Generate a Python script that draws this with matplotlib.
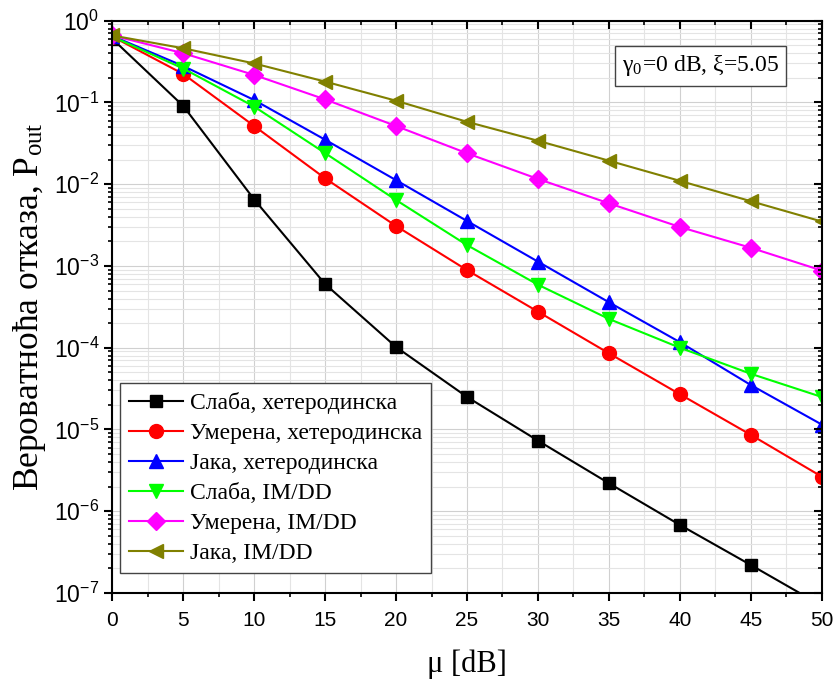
import matplotlib
matplotlib.use("Agg")
import matplotlib.pyplot as plt
from matplotlib.ticker import LogLocator, MultipleLocator, NullFormatter, FuncFormatter
import numpy as np

plt.rcParams["mathtext.fontset"] = "custom"
plt.rcParams["mathtext.rm"] = "Liberation Sans"
plt.rcParams["mathtext.it"] = "Liberation Sans:italic"
plt.rcParams["mathtext.bf"] = "Liberation Sans:bold"

mu = [0, 5, 10, 15, 20, 25, 30, 35, 40, 45, 50]

slaba_het = [0.60, 0.0905, 0.0065, 6.0e-4, 1.02e-4, 2.5e-5, 7.3e-6, 2.2e-6, 6.8e-7, 2.2e-7, 7.0e-8]
umerena_het = [0.64, 0.223, 0.0515, 0.0118, 0.00308, 8.9e-4, 2.76e-4, 8.55e-5, 2.7e-5, 8.6e-6, 2.65e-6]
jaka_het = [0.65, 0.279, 0.107, 0.035, 0.0112, 0.00355, 0.00113, 3.6e-4, 1.17e-4, 3.5e-5, 1.15e-5]
slaba_im = [0.64, 0.26, 0.089, 0.024, 0.0064, 0.0018, 5.9e-4, 2.25e-4, 1.0e-4, 4.8e-5, 2.5e-5]
umerena_im = [0.66, 0.40, 0.217, 0.109, 0.0515, 0.0239, 0.0116, 0.00584, 0.0030, 0.00167, 8.8e-4]
jaka_im = [0.66, 0.46, 0.30, 0.18, 0.105, 0.058, 0.034, 0.0194, 0.011, 0.0062, 0.0035]

labels = ["Слаба, хетеродинска", "Умерена, хетеродинска", "Јака, хетеродинска",
          "Слаба, IM/DD", "Умерена, IM/DD", "Јака, IM/DD"]
series = [slaba_het, umerena_het, jaka_het, slaba_im, umerena_im, jaka_im]
colors = ["#000000", "#FF0000", "#0000FF", "#00FF00", "#FF00FF", "#808000"]
markers = ["s", "o", "^", "v", "D", "<"]
msizes = [9, 10, 10, 10, 9, 10]

serif = ["Liberation Serif", "DejaVu Serif"]
sans = ["Liberation Sans", "DejaVu Sans"]

fig = plt.figure(figsize=(8.39, 6.86), dpi=100)
ax = fig.add_axes([0.1339, 0.1356, 0.8455, 0.8342])

for y, lab, c, m, ms in zip(series, labels, colors, markers, msizes):
    ax.plot(mu, y, color=c, marker=m, markersize=ms, linewidth=1.5, label=lab,
            markeredgecolor=c, markerfacecolor=c, clip_on=True)

ax.set_yscale("log")
ax.set_xlim(0, 50)
ax.set_ylim(1e-7, 1)

ax.xaxis.set_major_locator(MultipleLocator(5))
ax.xaxis.set_minor_locator(MultipleLocator(2.5))
ax.yaxis.set_major_locator(LogLocator(base=10, numticks=20))
ax.yaxis.set_minor_locator(LogLocator(base=10, subs=range(2, 10), numticks=20))
ax.yaxis.set_minor_formatter(NullFormatter())
ax.yaxis.set_major_formatter(FuncFormatter(
    lambda v, p: r"$\mathregular{10^{%d}}$" % int(round(np.log10(v)))))

ax.grid(True, which="major", color="#d0d0d0", linewidth=0.8)
ax.grid(True, which="minor", color="#e4e4e4", linewidth=0.8)
ax.set_axisbelow(True)

for s in ax.spines.values():
    s.set_linewidth(1.5)

ax.tick_params(axis="both", which="major", direction="out", length=6, width=1.5,
               labelsize=15, top=False, right=False)
ax.tick_params(axis="x", which="major", pad=7)
ax.tick_params(axis="both", which="minor", direction="out", length=3, width=1.2,
               top=False, right=False)
for lab in ax.get_xticklabels() + ax.get_yticklabels():
    lab.set_fontfamily(sans)
for lab in ax.get_yticklabels():
    lab.set_fontsize(16.5)

# mirrored inward ticks on top/right
axt = ax.twiny()
axt.set_xlim(ax.get_xlim())
axt.xaxis.set_major_locator(MultipleLocator(5))
axt.xaxis.set_minor_locator(MultipleLocator(2.5))
axt.tick_params(axis="x", which="major", direction="in", length=6, width=1.5, labeltop=False)
axt.tick_params(axis="x", which="minor", direction="in", length=3, width=1.2)
axr = ax.twinx()
axr.set_yscale("log")
axr.set_ylim(ax.get_ylim())
axr.yaxis.set_major_locator(LogLocator(base=10, numticks=20))
axr.yaxis.set_minor_locator(LogLocator(base=10, subs=range(2, 10), numticks=20))
axr.yaxis.set_minor_formatter(NullFormatter())
axr.tick_params(axis="y", which="major", direction="in", length=6, width=1.5, labelright=False)
axr.tick_params(axis="y", which="minor", direction="in", length=3, width=1.2, labelright=False)
for a in (axt, axr):
    for s in a.spines.values():
        s.set_visible(False)

ax.set_xlabel("μ [dB]", fontfamily=serif, fontsize=22, labelpad=14)
ax.set_ylabel("Вероватноћа отказа, P$_{\\mathregular{out}}$", fontfamily=serif, fontsize=25.5, labelpad=4)
ax.yaxis.label.set_math_fontfamily("stix")

leg = ax.legend(loc="lower left", bbox_to_anchor=(0.011, 0.035), prop={"family": serif, "size": 17},
                frameon=True, fancybox=False, edgecolor="#444444", framealpha=1,
                borderpad=0.37, labelspacing=0.36, handlelength=2.3, handletextpad=0.3,
                borderaxespad=0)
leg.get_frame().set_linewidth(1.0)

t = ax.text(0.940, 0.921, "γ$_{\\mathregular{0}}$=0 dB, ξ=5.05", transform=ax.transAxes, ha="right", va="center",
            fontfamily=serif, fontsize=17,
            bbox=dict(boxstyle="square,pad=0.3", facecolor="white", edgecolor="#444444", linewidth=1.0))
t.set_math_fontfamily("stix")

fig.savefig("out.png", dpi=100)
